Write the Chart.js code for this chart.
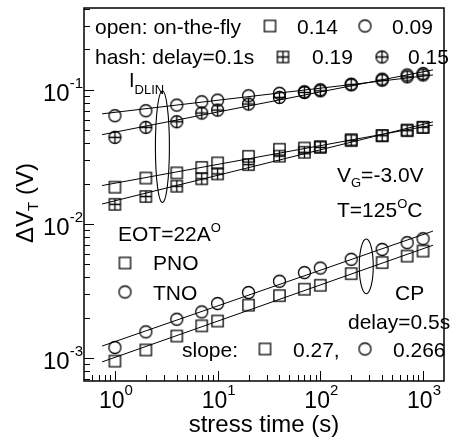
<!DOCTYPE html>
<html>
<head>
<meta charset="utf-8">
<script src="https://cdn.jsdelivr.net/npm/chart.js@4.4.1/dist/chart.umd.min.js"></script>
<style>
  html, body { margin: 0; padding: 0; background: #fff; }
  #wrap { width: 452px; height: 442px; }
</style>
</head>
<body>
<div id="wrap"><canvas id="c" width="452" height="442"></canvas></div>
<script>
// Stress times (s)
const stressTime = [1, 2, 4, 7, 10, 20, 40, 70, 100, 200, 400, 700, 1000];

// I_DLIN measurement, open = on-the-fly, hash = delay 0.1 s
const idlinOpenPNO = [0.0188, 0.0220, 0.0240, 0.0264, 0.0285, 0.0319, 0.0360, 0.0368, 0.0377, 0.0425, 0.0455, 0.0501, 0.0525];
const idlinOpenTNO = [0.0641, 0.0698, 0.0769, 0.0814, 0.0838, 0.0902, 0.0942, 0.0966, 0.1000, 0.1100, 0.1200, 0.1290, 0.1320];
const idlinHashPNO = [0.0140, 0.0160, 0.0191, 0.0217, 0.0236, 0.0277, 0.0320, 0.0342, 0.0372, 0.0418, 0.0455, 0.0496, 0.0525];
const idlinHashTNO = [0.0442, 0.0525, 0.0578, 0.0671, 0.0706, 0.0783, 0.0877, 0.0955, 0.0983, 0.1090, 0.1180, 0.1250, 0.1290];

// Charge pumping, delay 0.5 s
const cpPNO = [0.00095, 0.00115, 0.00146, 0.00174, 0.00189, 0.00248, 0.00292, 0.00326, 0.00349, 0.00426, 0.00515, 0.00576, 0.00628];
const cpTNO = [0.00120, 0.00157, 0.00195, 0.00221, 0.00255, 0.00308, 0.00374, 0.00434, 0.00469, 0.00545, 0.00646, 0.00725, 0.00776];

// Power-law slopes quoted in the annotations
const slopeOpenPNO = 0.14, slopeOpenTNO = 0.09;
const slopeHashPNO = 0.19, slopeHashTNO = 0.15;
const slopeCpPNO = 0.27, slopeCpTNO = 0.266;

// Axis ranges and tick labels
const xRange = [0.5, 1600];
const yRange = [6.75e-4, 0.407];
const xDecades = [0, 1, 2, 3];
const yDecades = [-1, -2, -3];
const fitSpan = [0.75, 1250];

const FONT = '"Liberation Sans", Arial, Helvetica, sans-serif';

// Marker glyphs: open square / circle, optionally with a plus through them
function makeMarker(shape, hashed) {
  const s = 17, m = s / 2;
  const c = document.createElement('canvas');
  c.width = s; c.height = s;
  const g = c.getContext('2d');
  g.strokeStyle = '#000';
  g.lineWidth = 1.3;
  const h = shape === 'square' ? 5.6 : 6;
  g.beginPath();
  if (shape === 'square') g.rect(m - h, m - h, 2 * h, 2 * h);
  else g.arc(m, m, h, 0, Math.PI * 2);
  if (hashed) {
    g.moveTo(m - h, m); g.lineTo(m + h, m);
    g.moveTo(m, m - h); g.lineTo(m, m + h);
  }
  g.stroke();
  return c;
}
const mkSquare = makeMarker('square', false);
const mkCircle = makeMarker('circle', false);
const mkSquareHash = makeMarker('square', true);
const mkCircleHash = makeMarker('circle', true);

function points(ys) { return stressTime.map((t, i) => ({ x: t, y: ys[i] })); }

// Least-squares intercept in log-log space for a given slope
function fitLine(ys, slope) {
  let sx = 0, sy = 0;
  stressTime.forEach((t, i) => { sx += Math.log10(t); sy += Math.log10(ys[i]); });
  const logA = sy / ys.length - slope * sx / ys.length;
  return fitSpan.map(t => ({ x: t, y: Math.pow(10, logA) * Math.pow(t, slope) }));
}

function scatterSet(ys, marker) {
  return { data: points(ys), showLine: false, pointStyle: marker, pointRadius: 7, pointHoverRadius: 7 };
}
function lineSet(ys, slope) {
  return { data: fitLine(ys, slope), showLine: true, borderColor: '#000', borderWidth: 1, pointRadius: 0, fill: false };
}

// Draws a run of text pieces [text, size, baselineShift] left to right
function rich(ctx, x, y, parts, align) {
  let w = 0;
  parts.forEach(p => { ctx.font = p[1] + 'px ' + FONT; w += ctx.measureText(p[0]).width; });
  let cx = align === 'center' ? x - w / 2 : align === 'right' ? x - w : x;
  ctx.textBaseline = 'alphabetic';
  ctx.textAlign = 'left';
  parts.forEach(p => {
    ctx.font = p[1] + 'px ' + FONT;
    ctx.fillText(p[0], cx, y + (p[2] || 0));
    cx += ctx.measureText(p[0]).width;
  });
}

function marker(ctx, img, x, y) {
  ctx.drawImage(img, x - img.width / 2, y - img.height / 2);
}

const framePlugin = {
  id: 'frame',
  beforeDatasetsDraw(chart) {
    const { ctx, chartArea: a, scales } = chart;
    const xs = scales.x, ys = scales.y;
    ctx.save();
    ctx.strokeStyle = '#000';
    ctx.lineWidth = 1.5;
    ctx.strokeRect(a.left, a.top, a.right - a.left, a.bottom - a.top);
    ctx.lineWidth = 1;
    ctx.beginPath();
    for (let e = -1; e <= 3; e++) {
      for (let m = 1; m <= 9; m++) {
        const v = m * Math.pow(10, e);
        if (v <= xRange[0] || v >= xRange[1]) continue;
        const px = Math.round(xs.getPixelForValue(v)) + 0.5;
        const len = m === 1 ? 10 : 6;
        ctx.moveTo(px, a.bottom); ctx.lineTo(px, a.bottom - len);
      }
    }
    for (let e = -4; e <= -1; e++) {
      for (let m = 1; m <= 9; m++) {
        const v = m * Math.pow(10, e);
        if (v <= yRange[0] || v >= yRange[1]) continue;
        const py = Math.round(ys.getPixelForValue(v)) + 0.5;
        const len = m === 1 ? 10 : 6;
        ctx.moveTo(a.left, py); ctx.lineTo(a.left + len, py);
      }
    }
    ctx.stroke();

    // Ellipses grouping the I_DLIN and CP data
    const ell = (xv, yTop, yBot, rx) => {
      const cx = xs.getPixelForValue(xv);
      const t = ys.getPixelForValue(yTop), b = ys.getPixelForValue(yBot);
      ctx.beginPath();
      ctx.ellipse(cx, (t + b) / 2, rx, (b - t) / 2, 0, 0, Math.PI * 2);
      ctx.stroke();
    };
    ctx.lineWidth = 1.1;
    ell(2.9, 0.098, 0.01445, 7);
    ell(280, 0.00773, 0.00302, 7);
    ctx.restore();
  },
  afterDraw(chart) {
    const { ctx, chartArea: a, scales } = chart;
    const xs = scales.x, ys = scales.y;
    ctx.save();
    ctx.fillStyle = '#000';

    // Tick labels
    xDecades.forEach(d => {
      rich(ctx, xs.getPixelForValue(Math.pow(10, d)) + 1, 408, [['10', 23], [String(d), 15, -13]], 'center');
    });
    yDecades.forEach(d => {
      const py = ys.getPixelForValue(Math.pow(10, d));
      rich(ctx, a.left - 1, py + 11, [['10', 24], [String(d), 15, -13]], 'right');
    });

    // Axis titles
    rich(ctx, (a.left + a.right) / 2, 432, [['stress time (s)', 24]], 'center');
    ctx.save();
    ctx.translate(33, 203);
    ctx.rotate(-Math.PI / 2);
    rich(ctx, 0, 0, [['\u0394V', 24], ['T', 15, 5], [' (V)', 24]], 'center');
    ctx.restore();

    // Header legend
    rich(ctx, 95, 34, [['open: on-the-fly', 21]]);
    marker(ctx, mkSquare, 270, 26);
    rich(ctx, 297, 34, [[String(slopeOpenPNO), 21]]);
    marker(ctx, mkCircle, 365, 26);
    rich(ctx, 392, 34, [[slopeOpenTNO.toFixed(2), 21]]);

    rich(ctx, 95, 64, [['hash: delay=0.1s', 21]]);
    marker(ctx, mkSquareHash, 283, 57);
    rich(ctx, 312, 64, [[String(slopeHashPNO), 21]]);
    marker(ctx, mkCircleHash, 382, 57);
    rich(ctx, 408, 64, [[String(slopeHashTNO), 21]]);

    // Annotations
    rich(ctx, 129, 87, [['I', 20], ['DLIN', 13, 7]]);
    rich(ctx, 337, 182, [['V', 21], ['G', 13, 5], ['=-3.0V', 21]]);
    rich(ctx, 337, 217, [['T=125', 21], ['O', 13, -9], ['C', 21]]);
    rich(ctx, 118, 241, [['EOT=22A', 21], ['O', 13, -9]]);
    marker(ctx, mkSquare, 125, 263);
    rich(ctx, 153, 270, [['PNO', 21]]);
    marker(ctx, mkCircle, 125, 292);
    rich(ctx, 153, 300, [['TNO', 21]]);
    rich(ctx, 395, 300, [['CP', 21]]);
    rich(ctx, 348, 329, [['delay=0.5s', 21]]);
    rich(ctx, 182, 357, [['slope:', 21]]);
    marker(ctx, mkSquare, 265, 349);
    rich(ctx, 293, 357, [[slopeCpPNO + ',', 21]]);
    marker(ctx, mkCircle, 365, 349);
    rich(ctx, 393, 357, [[String(slopeCpTNO), 21]]);
    ctx.restore();
  }
};

new Chart(document.getElementById('c'), {
  type: 'scatter',
  data: {
    datasets: [
      lineSet(idlinOpenTNO, slopeOpenTNO),
      lineSet(idlinHashTNO, slopeHashTNO),
      lineSet(idlinOpenPNO, slopeOpenPNO),
      lineSet(idlinHashPNO, slopeHashPNO),
      lineSet(cpTNO, slopeCpTNO),
      lineSet(cpPNO, slopeCpPNO),
      scatterSet(idlinOpenTNO, mkCircle),
      scatterSet(idlinHashTNO, mkCircleHash),
      scatterSet(idlinOpenPNO, mkSquare),
      scatterSet(idlinHashPNO, mkSquareHash),
      scatterSet(cpTNO, mkCircle),
      scatterSet(cpPNO, mkSquare)
    ]
  },
  options: {
    responsive: false,
    devicePixelRatio: 1,
    animation: false,
    layout: { padding: { left: 84, top: 7, right: 6, bottom: 61 } },
    plugins: { legend: { display: false }, tooltip: { enabled: false } },
    scales: {
      x: { type: 'logarithmic', min: xRange[0], max: xRange[1], bounds: 'data', display: false },
      y: { type: 'logarithmic', min: yRange[0], max: yRange[1], bounds: 'data', display: false }
    }
  },
  plugins: [framePlugin]
});
</script>
</body>
</html>
